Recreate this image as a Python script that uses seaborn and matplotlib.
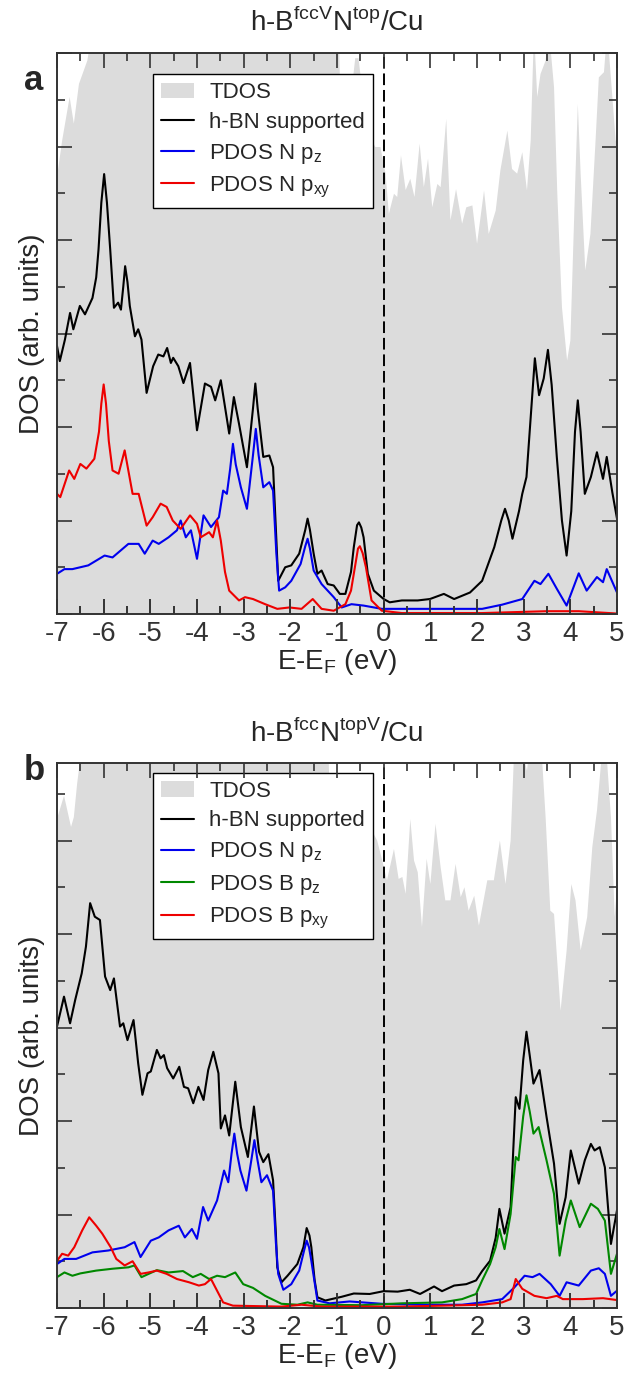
import numpy as np
import pandas as pd
import matplotlib
matplotlib.use('Agg')
import matplotlib.pyplot as plt
import matplotlib.ticker as mtick
import seaborn as sns

# ---------------- panel a : h-B(fccV)N(top)/Cu ----------------
a_tdos_x = [-7.0, -6.9, -6.74, -6.65, -6.54, -6.36, -6.29, -6.2, -1.0, -0.95, -0.85, -0.72, -0.62,
            -0.55, -0.48, -0.4, -0.3, -0.19, -0.08, 0.03, 0.10, 0.21, 0.28, 0.36, 0.46, 0.56, 0.65,
            0.76, 0.85, 0.94, 1.03, 1.14, 1.21, 1.33, 1.42, 1.54, 1.67, 1.76, 1.89, 1.99, 2.14, 2.24,
            2.39, 2.49, 2.64, 2.74, 2.85, 2.96, 3.06, 3.14, 3.21, 3.28, 3.35, 3.46, 3.53, 3.64, 3.71,
            3.81, 3.92, 3.99, 4.10, 4.15, 4.21, 4.31, 4.42, 4.53, 4.60, 4.71, 4.78, 4.89, 4.96, 5.0]
a_tdos_y = [9.43, 10.14, 11.07, 10.5, 11.35, 11.85, 12.3, 14, 14, 11.5, 10.8, 11.0, 11.9,
            11.9, 11.3, 10.5, 10.2, 10.0, 10.0, 9.43, 8.57, 9.0, 8.93, 9.82, 9.08, 9.32, 8.93,
            10.07, 9.14, 9.75, 8.71, 9.21, 9.14, 10.6, 8.43, 9.1, 8.36, 8.71, 8.75, 7.93, 9.07, 8.14,
            8.64, 9.5, 10.35, 9.53, 9.43, 9.89, 9.07, 10.14, 12.5, 11.07, 11.56, 11.85, 12.5, 11.28, 9.0,
            6.57, 5.43, 5.86, 9.43, 10.92, 9.43, 7.36, 8.14, 10.14, 11.49, 11.6, 12.5, 11.07, 10.14, 10.1]

a_hbn_x = [-7.0, -6.94, -6.83, -6.72, -6.65, -6.51, -6.40, -6.24, -6.16, -6.11, -6.05, -5.99, -5.93,
           -5.86, -5.78, -5.69, -5.63, -5.58, -5.54, -5.49, -5.44, -5.33, -5.26, -5.19, -5.08, -4.94,
           -4.83, -4.72, -4.64, -4.56, -4.51, -4.4, -4.29, -4.15, -4.0, -3.83, -3.70, -3.61, -3.49,
           -3.31, -3.21, -3.10, -2.93, -2.80, -2.75, -2.70, -2.58, -2.45, -2.37, -2.30, -2.26, -2.11,
           -1.98, -1.81, -1.68, -1.63, -1.58, -1.50, -1.42, -1.33, -1.20, -1.07, -0.94, -0.82, -0.70,
           -0.64, -0.57, -0.53, -0.48, -0.43, -0.34, -0.21, 0.0, 0.13, 0.39, 0.73, 0.99, 1.29, 1.51,
           1.85, 2.11, 2.37, 2.52, 2.60, 2.68, 2.76, 2.90, 2.97, 3.06, 3.15, 3.24, 3.33, 3.43, 3.52,
           3.60, 3.71, 3.82, 3.92, 4.02, 4.10, 4.16, 4.22, 4.31, 4.44, 4.57, 4.70, 4.78, 4.90, 5.0]
a_hbn_y = [5.73, 5.41, 5.87, 6.44, 6.09, 6.59, 6.41, 6.76, 7.2, 7.8, 8.8, 9.41, 8.8,
           7.8, 6.55, 6.66, 6.51, 7.0, 7.44, 7.1, 6.59, 5.94, 6.09, 5.87, 4.73, 5.3,
           5.55, 5.51, 5.69, 5.37, 5.48, 5.3, 4.94, 5.37, 3.93, 4.93, 4.86, 4.57, 5.0,
           3.86, 4.64, 4.07, 3.14, 4.4, 4.93, 4.4, 3.36, 3.39, 3.14, 1.6, 0.71, 1.0,
           1.04, 1.29, 1.8, 2.04, 1.8, 1.29, 0.86, 0.93, 0.64, 0.61, 0.43, 0.43, 0.9,
           1.43, 1.9, 1.96, 1.85, 1.64, 0.86, 0.5, 0.32, 0.25, 0.29, 0.29, 0.32, 0.43, 0.32,
           0.46, 0.71, 1.43, 2.0, 2.25, 2.0, 1.61, 2.2, 2.57, 2.93, 4.2, 5.47, 4.68, 5.04, 5.65,
           4.9, 3.36, 2.0, 1.25, 2.2, 3.9, 4.57, 3.9, 2.57, 2.93, 3.46, 2.89, 3.36, 2.6, 2.04]

a_npz_x = [-7.0, -6.84, -6.67, -6.33, -5.98, -5.81, -5.47, -5.25, -5.12, -4.95, -4.82, -4.61, -4.43,
           -4.35, -4.24, -4.13, -4.0, -3.86, -3.70, -3.53, -3.44, -3.36, -3.29, -3.23, -3.17, -3.06,
           -2.93, -2.80, -2.74, -2.68, -2.58, -2.45, -2.37, -2.30, -2.24, -2.11, -1.98, -1.78, -1.68,
           -1.63, -1.58, -1.50, -1.33, -1.20, -1.07, -0.90, -0.69, -0.43, -0.04, 0.39, 1.25, 2.11,
           2.54, 2.97, 3.23, 3.36, 3.53, 3.71, 3.92, 4.18, 4.35, 4.57, 4.70, 4.78, 5.0]
a_npz_y = [0.86, 0.96, 0.96, 1.04, 1.25, 1.21, 1.5, 1.5, 1.29, 1.57, 1.5, 1.64, 1.79,
           2.0, 1.64, 1.79, 1.18, 2.11, 1.86, 2.07, 2.64, 2.57, 3.1, 3.64, 3.2, 2.71,
           2.25, 3.4, 3.96, 3.4, 2.71, 2.82, 2.64, 1.3, 0.5, 0.57, 0.71, 1.07, 1.45,
           1.61, 1.4, 0.93, 0.64, 0.5, 0.36, 0.14, 0.21, 0.18, 0.11, 0.11, 0.11, 0.11,
           0.2, 0.32, 0.71, 0.64, 0.86, 0.54, 0.18, 0.87, 0.5, 0.79, 0.68, 0.96, 0.46]

a_npxy_x = [-7.0, -6.93, -6.74, -6.63, -6.50, -6.37, -6.20, -6.10, -6.05, -6.0, -5.95, -5.89, -5.81,
            -5.68, -5.55, -5.38, -5.25, -5.08, -4.95, -4.78, -4.65, -4.52, -4.35, -4.15, -4.0, -3.92,
            -3.74, -3.66, -3.57, -3.49, -3.40, -3.31, -3.10, -2.97, -2.80, -2.54, -2.28, -2.02, -1.76,
            -1.52, -1.33, -1.07, -0.82, -0.70, -0.60, -0.55, -0.51, -0.45, -0.38, -0.26, -0.04, 0.39,
            2.11, 3.49, 4.18, 5.0]
a_npxy_y = [2.57, 2.5, 3.07, 2.89, 3.21, 3.11, 3.32, 3.9, 4.5, 4.91, 4.5, 3.7, 3.07,
            3.0, 3.5, 2.57, 2.57, 1.89, 2.07, 2.36, 2.29, 2.0, 1.82, 2.11, 1.93, 1.64,
            1.75, 1.64, 2.0, 1.57, 0.9, 0.5, 0.29, 0.36, 0.32, 0.21, 0.11, 0.14, 0.11,
            0.32, 0.11, 0.07, 0.21, 0.5, 1.1, 1.4, 1.45, 1.3, 1.0, 0.29, 0.07, 0.02,
            0.02, 0.06, 0.06, 0.01]

# ---------------- panel b : h-B(fcc)N(topV)/Cu ----------------
b_tdos_x = [-7.0, -6.86, -6.71, -6.65, -6.58, -6.52, -6.45, -1.25, -1.18, -1.0, -0.7, -0.4, -0.25,
            -0.15, -0.04, 0.06, 0.21, 0.31, 0.39, 0.46, 0.56, 0.64, 0.72, 0.81, 0.91, 0.99, 1.10,
            1.21, 1.31, 1.42, 1.53, 1.64, 1.72, 1.81, 1.93, 2.03, 2.21, 2.35, 2.48, 2.60, 2.71, 2.78,
            2.85, 2.95, 3.06, 3.15, 3.21, 3.35, 3.46, 3.56, 3.64, 3.78, 3.91, 4.01, 4.10, 4.21, 4.35,
            4.46, 4.56, 4.64, 4.71, 4.78, 4.86, 4.94, 5.0]
b_tdos_y = [10.51, 10.97, 10.3, 10.51, 11.22, 11.7, 14, 14, 11.4, 10.5, 10.0, 10.5, 10.2,
            10.01, 9.58, 9.16, 9.83, 9.19, 9.23, 8.87, 10.47, 9.58, 9.33, 8.16, 9.62, 9.08, 10.37,
            9.44, 8.73, 8.73, 9.51, 8.8, 9.01, 8.51, 8.83, 8.19, 9.16, 9.16, 10.01, 9.08, 10.01, 11.8,
            12.3, 12.0, 11.5, 12.3, 12.3, 12.3, 10.5, 8.51, 8.44, 6.37, 7.66, 9.08, 8.73, 7.66, 8.37,
            9.87, 10.65, 11.58, 12.3, 11.65, 10.51, 8.37, 9.2]

b_hbn_x = [-7.0, -6.85, -6.72, -6.61, -6.47, -6.38, -6.29, -6.19, -6.08, -5.97, -5.86, -5.78, -5.65,
           -5.58, -5.49, -5.36, -5.26, -5.17, -5.06, -4.99, -4.86, -4.78, -4.71, -4.64, -4.51, -4.38,
           -4.28, -4.19, -4.08, -3.97, -3.86, -3.76, -3.65, -3.54, -3.49, -3.40, -3.31, -3.18, -3.06,
           -2.91, -2.78, -2.67, -2.58, -2.47, -2.37, -2.31, -2.28, -2.19, -2.06, -1.85, -1.72, -1.65,
           -1.59, -1.55, -1.48, -1.42, -1.25, -0.90, -0.64, -0.30, 0.0, 0.30, 0.56, 0.78, 1.08, 1.25,
           1.51, 1.77, 1.98, 2.11, 2.28, 2.40, 2.48, 2.59, 2.72, 2.83, 2.91, 2.99, 3.06, 3.13, 3.21,
           3.34, 3.49, 3.65, 3.77, 3.90, 4.01, 4.18, 4.31, 4.44, 4.52, 4.63, 4.74, 4.87, 5.0]
b_hbn_y = [6.02, 6.66, 6.09, 6.59, 7.16, 7.73, 8.66, 8.37, 8.3, 7.09, 6.8, 7.05, 6.02,
           6.09, 5.73, 6.16, 5.23, 4.56, 5.02, 5.06, 5.52, 5.34, 5.41, 5.13, 4.91, 5.16,
           4.73, 4.7, 4.38, 4.73, 4.45, 5.09, 5.48, 5.02, 3.84, 4.12, 3.69, 4.84, 3.87,
           3.23, 4.31, 3.34, 3.12, 3.29, 2.73, 1.6, 0.87, 0.55, 0.69, 0.94, 1.3, 1.71,
           1.55, 1.3, 0.6, 0.23, 0.16, 0.24, 0.31, 0.3, 0.36, 0.35, 0.39, 0.3, 0.46, 0.36,
           0.48, 0.51, 0.59, 0.79, 1.01, 1.5, 2.12, 1.59, 2.16, 4.51, 4.26, 5.3, 5.91, 5.4, 4.8,
           5.09, 4.09, 3.09, 1.8, 2.37, 3.37, 2.66, 3.16, 3.51, 3.37, 3.44, 3.01, 1.37, 2.09]

b_npz_x = [-7.0, -6.84, -6.59, -6.24, -5.90, -5.55, -5.34, -5.21, -4.99, -4.82, -4.61, -4.39, -4.26,
           -4.11, -4.0, -3.87, -3.76, -3.57, -3.42, -3.33, -3.26, -3.20, -3.14, -3.07, -2.94, -2.83,
           -2.77, -2.71, -2.62, -2.50, -2.37, -2.31, -2.26, -2.15, -1.98, -1.81, -1.70, -1.65, -1.60,
           -1.55, -1.42, -1.16, -0.73, -0.04, 0.82, 1.68, 2.11, 2.54, 2.80, 3.02, 3.19, 3.34, 3.58,
           3.77, 3.92, 4.18, 4.44, 4.61, 4.74, 4.87, 5.0]
b_npz_y = [0.94, 1.05, 1.05, 1.19, 1.23, 1.3, 1.41, 1.09, 1.44, 1.51, 1.66, 1.76, 1.51,
           1.69, 1.48, 2.16, 1.87, 2.3, 2.94, 2.69, 3.3, 3.73, 3.3, 2.94, 2.51, 3.2,
           3.59, 3.2, 2.69, 2.84, 2.51, 1.4, 0.73, 0.39, 0.51, 0.8, 1.25, 1.44, 1.3,
           1.01, 0.16, 0.1, 0.14, 0.09, 0.07, 0.07, 0.12, 0.19, 0.44, 0.69, 0.66, 0.73, 0.51,
           0.26, 0.55, 0.48, 0.8, 0.85, 0.73, 0.26, 0.37]

b_bpz_x = [-7.0, -6.84, -6.67, -6.50, -6.16, -5.81, -5.47, -5.34, -5.19, -4.86, -4.61, -4.30, -4.09,
           -3.92, -3.74, -3.57, -3.40, -3.18, -3.01, -2.80, -2.54, -2.19, -1.85, -1.63, -1.42, -0.47,
           0.39, 1.25, 1.68, 1.98, 2.11, 2.28, 2.40, 2.48, 2.59, 2.72, 2.83, 2.89, 2.99, 3.06, 3.13,
           3.21, 3.32, 3.49, 3.65, 3.77, 3.90, 4.01, 4.20, 4.44, 4.59, 4.74, 4.87, 5.0]
b_bpz_y = [0.66, 0.76, 0.69, 0.74, 0.8, 0.84, 0.87, 0.91, 0.66, 0.81, 0.76, 0.79, 0.66,
           0.73, 0.62, 0.69, 0.66, 0.76, 0.51, 0.43, 0.26, 0.09, 0.07, 0.12, 0.07, 0.06,
           0.1, 0.12, 0.19, 0.3, 0.59, 0.94, 1.3, 1.69, 1.26, 2.01, 3.23, 3.16, 4.1, 4.55, 4.2,
           3.73, 3.87, 3.16, 2.44, 1.12, 1.87, 2.3, 1.73, 2.23, 2.12, 1.87, 0.73, 1.16]

b_bpxy_x = [-7.0, -6.89, -6.76, -6.63, -6.46, -6.31, -6.16, -6.03, -5.85, -5.73, -5.55, -5.38, -5.21,
            -5.04, -4.86, -4.65, -4.43, -4.17, -3.96, -3.83, -3.70, -3.57, -3.44, -3.23, -2.19, -1.76,
            -1.33, 0.39, 2.11, 2.54, 2.72, 2.83, 2.97, 3.23, 3.49, 3.71, 3.84, 4.27, 4.70, 5.0]
b_bpxy_y = [1.01, 1.16, 1.12, 1.3, 1.66, 1.94, 1.76, 1.59, 1.3, 1.05, 0.91, 1.0, 0.73,
            0.76, 0.8, 0.73, 0.62, 0.55, 0.48, 0.51, 0.62, 0.37, 0.12, 0.05, 0.03, 0.07,
            0.03, 0.03, 0.07, 0.12, 0.19, 0.62, 0.41, 0.26, 0.21, 0.26, 0.19, 0.19, 0.21, 0.17]

title_a = r'h-B$^{\mathrm{fccV}}$N$^{\mathrm{top}}$/Cu'
title_b = r'h-B$^{\mathrm{fcc}}$N$^{\mathrm{topV}}$/Cu'

sns.set_style('white')
plt.rcParams['font.family'] = ['Liberation Sans', 'DejaVu Sans']
plt.rcParams['mathtext.fontset'] = 'custom'
plt.rcParams['mathtext.rm'] = 'Liberation Sans'
# ticks all round, pointing in
plt.rcParams.update({
    'xtick.bottom': True, 'xtick.top': True, 'ytick.left': True, 'ytick.right': True,
    'xtick.direction': 'in', 'ytick.direction': 'in',
    'xtick.major.size': 11, 'ytick.major.size': 11,
    'xtick.minor.size': 5.5, 'ytick.minor.size': 5.5,
    'xtick.major.width': 1.2, 'ytick.major.width': 1.2,
    'xtick.minor.width': 1.2, 'ytick.minor.width': 1.2,
    'xtick.color': '#333333', 'ytick.color': '#333333',
    'axes.axisbelow': False,
})

tdos_col = '#dcdcdc'
fig = plt.figure(figsize=(6.3, 13.76), dpi=100)


def draw(rect, tdos_x, tdos_y, curves, ytop, title, leg_top):
    ax = fig.add_axes(rect)
    ax.fill_between(tdos_x, 0, tdos_y, color=tdos_col, lw=0, zorder=1)
    handles = [plt.Rectangle((0, 0), 1, 1, color=tdos_col, lw=0)]
    labels = ['TDOS']
    for x, y, col, lab in curves:
        d = pd.DataFrame({'E': x, 'DOS': y})
        sns.lineplot(data=d, x='E', y='DOS', ax=ax, color=col, lw=1.5, estimator=None,
                     sort=False, zorder=3)
        handles.append(plt.Line2D([], [], color=col, lw=1.5))
        labels.append(lab)
    ax.axvline(0, color='black', lw=1.4, ls=(0, (6, 2.5)), zorder=4)
    ax.set_xlabel(r'E-E$_\mathrm{F}$ (eV)', fontsize=20, labelpad=0)
    ax.set_ylabel('DOS (arb. units)', fontsize=20, labelpad=5)
    ax.text(0.5, 1.055, title, transform=ax.transAxes, ha='center', va='center', fontsize=20)
    leg = ax.legend(handles, labels, loc='upper left', bbox_to_anchor=(0.171, leg_top),
                    fontsize=16, frameon=True, fancybox=False, edgecolor='black', framealpha=1,
                    borderpad=0.35, labelspacing=0.4, handlelength=1.5, handletextpad=0.7,
                    borderaxespad=0)
    leg.get_frame().set_linewidth(1.0)
    leg.set_zorder(7)

    ax.set_xlim(-7, 5)
    ax.set_ylim(0, ytop)
    ax.xaxis.set_major_locator(mtick.MultipleLocator(1))
    ax.xaxis.set_minor_locator(mtick.MultipleLocator(0.5))
    ax.yaxis.set_major_locator(mtick.MultipleLocator(2))
    ax.yaxis.set_minor_locator(mtick.MultipleLocator(1))
    ax.xaxis.set_major_formatter(mtick.FormatStrFormatter('%d'))
    ax.yaxis.set_major_formatter(mtick.NullFormatter())
    ax.yaxis.set_tick_params(which='both', direction='in', left=True, right=True,
                             color='#333333', width=1.2)
    ax.yaxis.set_tick_params(which='major', length=11)
    ax.yaxis.set_tick_params(which='minor', length=5.5)
    ax.tick_params(axis='x', labelsize=20, pad=5)
    for s in ax.spines.values():
        s.set_linewidth(1.4)
        s.set_color('#333333')
        s.set_zorder(5)

    # empty twin axes carrying the x tick marks (top and bottom, pointing in)
    axt = ax.twiny()
    axt.set_xlim(-7, 5)
    axt.xaxis.set_major_locator(mtick.MultipleLocator(1))
    axt.xaxis.set_minor_locator(mtick.MultipleLocator(0.5))
    axt.xaxis.set_major_formatter(mtick.NullFormatter())
    axt.tick_params(axis='x', which='both', direction='in', top=True, bottom=True,
                    labeltop=False, labelbottom=False, color='#333333', width=1.2)
    axt.tick_params(axis='x', which='major', length=11)
    axt.tick_params(axis='x', which='minor', length=5.5)
    for s in axt.spines.values():
        s.set_visible(False)
    return ax


ax_a = draw([57/630, 1-614/1376, 560/630, 561/1376], a_tdos_x, a_tdos_y,
            [(a_hbn_x, a_hbn_y, 'black', 'h-BN supported'),
             (a_npz_x, a_npz_y, '#0000ee', r'PDOS N p$_\mathrm{z}$'),
             (a_npxy_x, a_npxy_y, '#ee0000', r'PDOS N p$_\mathrm{xy}$')],
            12, title_a, 0.962)
ax_b = draw([57/630, 1-1308/1376, 560/630, 545/1376], b_tdos_x, b_tdos_y,
            [(b_hbn_x, b_hbn_y, 'black', 'h-BN supported'),
             (b_npz_x, b_npz_y, '#0000ee', r'PDOS N p$_\mathrm{z}$'),
             (b_bpz_x, b_bpz_y, '#008800', r'PDOS B p$_\mathrm{z}$'),
             (b_bpxy_x, b_bpxy_y, '#ee0000', r'PDOS B p$_\mathrm{xy}$')],
            545/46.75, title_b, 0.982)

fig.text(24/630, 1-90/1376, 'a', fontsize=25, fontweight='bold', ha='left', va='baseline')
fig.text(24/630, 1-780/1376, 'b', fontsize=25, fontweight='bold', ha='left', va='baseline')

fig.savefig('out.png', dpi=100)
